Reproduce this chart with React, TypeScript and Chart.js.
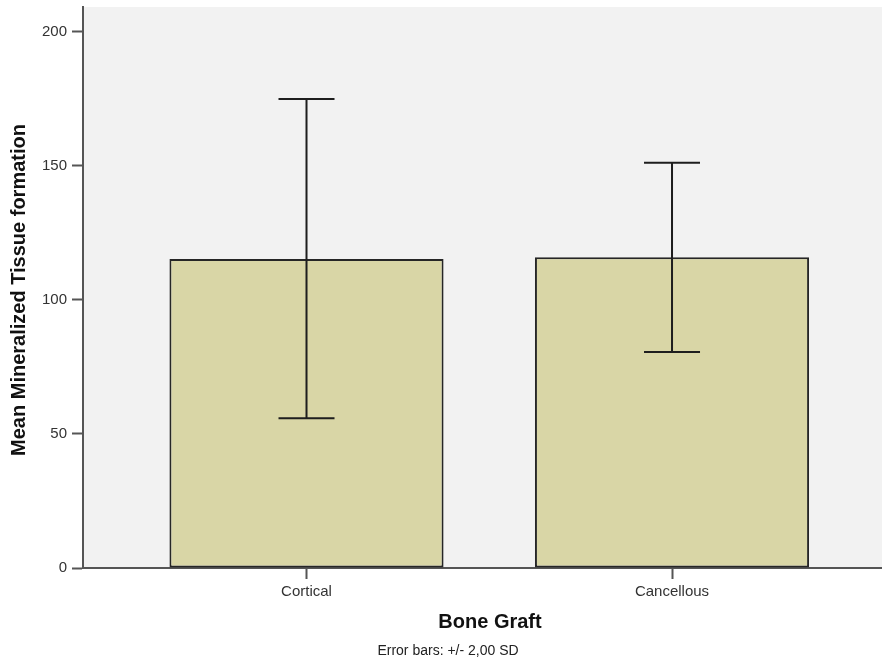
import React, { useEffect, useRef } from "react";
import { Chart, registerables } from "chart.js";

Chart.register(...registerables);

const categories = ["Cortical", "Cancellous"];
const meanValues = [115.3, 115.9];
const errLow = [55.9, 80.6];
const errHigh = [175.0, 151.2];
const yTicks = [0, 50, 100, 150, 200];
const yTitle = "Mean Mineralized Tissue formation";
const xTitle = "Bone Graft";
const footnote = "Error bars: +/- 2,00 SD";

const FONT = "'Liberation Sans', Arial, Helvetica, sans-serif";

export default function App() {
  const ref = useRef<HTMLCanvasElement | null>(null);

  useEffect(() => {
    document.body.style.margin = "0";
    const canvas = ref.current;
    if (!canvas) return;

    const bgPlugin = {
      id: "plotBg",
      beforeDraw(chart: any) {
        const { ctx, chartArea } = chart;
        ctx.save();
        ctx.fillStyle = "#f2f2f2";
        ctx.fillRect(chartArea.left, chartArea.top, chartArea.right - chartArea.left, chartArea.bottom - chartArea.top);
        ctx.restore();
      },
    };

    const errPlugin = {
      id: "errBars",
      afterDatasetsDraw(chart: any) {
        const { ctx, scales } = chart;
        const xs = scales.x;
        const ys = scales.y;
        ctx.save();
        ctx.strokeStyle = "#1e1e1e";
        ctx.lineWidth = 2;
        categories.forEach((_, i) => {
          const x = xs.getPixelForValue(i + 1);
          const yl = ys.getPixelForValue(errLow[i]);
          const yh = ys.getPixelForValue(errHigh[i]);
          const half = 28;
          ctx.beginPath();
          ctx.moveTo(x, yl);
          ctx.lineTo(x, yh);
          ctx.moveTo(x - half, yh);
          ctx.lineTo(x + half, yh);
          ctx.moveTo(x - half, yl);
          ctx.lineTo(x + half, yl);
          ctx.stroke();
        });
        ctx.restore();
      },
    };

    const textPlugin = {
      id: "texts",
      afterDraw(chart: any) {
        const { ctx } = chart;
        ctx.save();
        ctx.fillStyle = "#111";
        ctx.textAlign = "center";
        ctx.textBaseline = "middle";
        ctx.font = `bold 20px ${FONT}`;
        ctx.translate(19, 290);
        ctx.rotate(-Math.PI / 2);
        ctx.fillText(yTitle, 0, 0);
        ctx.restore();

        ctx.save();
        ctx.fillStyle = "#111";
        ctx.textAlign = "center";
        ctx.textBaseline = "middle";
        ctx.font = `bold 20px ${FONT}`;
        ctx.fillText(xTitle, 490, 622);
        ctx.font = `14px ${FONT}`;
        ctx.fillStyle = "#222";
        ctx.fillText(footnote, 448, 651);
        ctx.restore();
      },
    };

    const chart = new Chart(canvas, {
      type: "bar",
      data: {
        datasets: [
          {
            data: categories.map((_, i) => ({ x: i + 1, y: meanValues[i] })),
            backgroundColor: "#d9d6a6",
            borderColor: "#262626",
            borderWidth: 2,
            borderSkipped: false,
            categoryPercentage: 1,
            barPercentage: 0.75,
          } as any,
        ],
      },
      options: {
        animation: false,
        responsive: false,
        maintainAspectRatio: false,
        layout: { padding: { top: 7, right: 0, left: 0, bottom: 0 } },
        plugins: {
          legend: { display: false },
          tooltip: { enabled: false },
          title: { display: false },
        },
        scales: {
          x: {
            type: "linear",
            offset: false,
            min: 0.3885,
            max: 2.5745,
            afterBuildTicks(scale: any) {
              scale.ticks = categories.map((_, i) => ({ value: i + 1 }));
            },
            afterFit(scale: any) {
              scale.height = 91;
              scale.paddingLeft = 0;
              scale.paddingRight = 0;
            },
            ticks: {
              autoSkip: false,
              maxRotation: 0,
              padding: 4,
              color: "#333",
              font: { family: FONT, size: 15 },
              callback: (v: any) => categories[Math.round(Number(v)) - 1] ?? "",
            },
            grid: {
              offset: false,
              drawOnChartArea: false,
              drawTicks: true,
              tickLength: 11,
              tickColor: "#555",
              tickWidth: 2,
            },
            border: { display: true, color: "#555", width: 2 },
          },
          y: {
            type: "linear",
            min: 0,
            max: 209.3,
            afterBuildTicks(scale: any) {
              scale.ticks = yTicks.map((v) => ({ value: v }));
            },
            afterFit(scale: any) {
              scale.width = 83;
              scale.paddingTop = 0;
              scale.paddingBottom = 0;
            },
            ticks: {
              padding: 5,
              color: "#333",
              font: { family: FONT, size: 15 },
            },
            grid: {
              drawOnChartArea: false,
              drawTicks: true,
              tickLength: 11,
              tickColor: "#555",
              tickWidth: 2,
            },
            border: { display: true, color: "#555", width: 2 },
          },
        },
      },
      plugins: [bgPlugin, errPlugin, textPlugin],
    });

    return () => chart.destroy();
  }, []);

  return (
    <div style={{ width: 882, height: 659 }}>
      <canvas ref={ref} width={882} height={659} style={{ display: "block" }} />
    </div>
  );
}
